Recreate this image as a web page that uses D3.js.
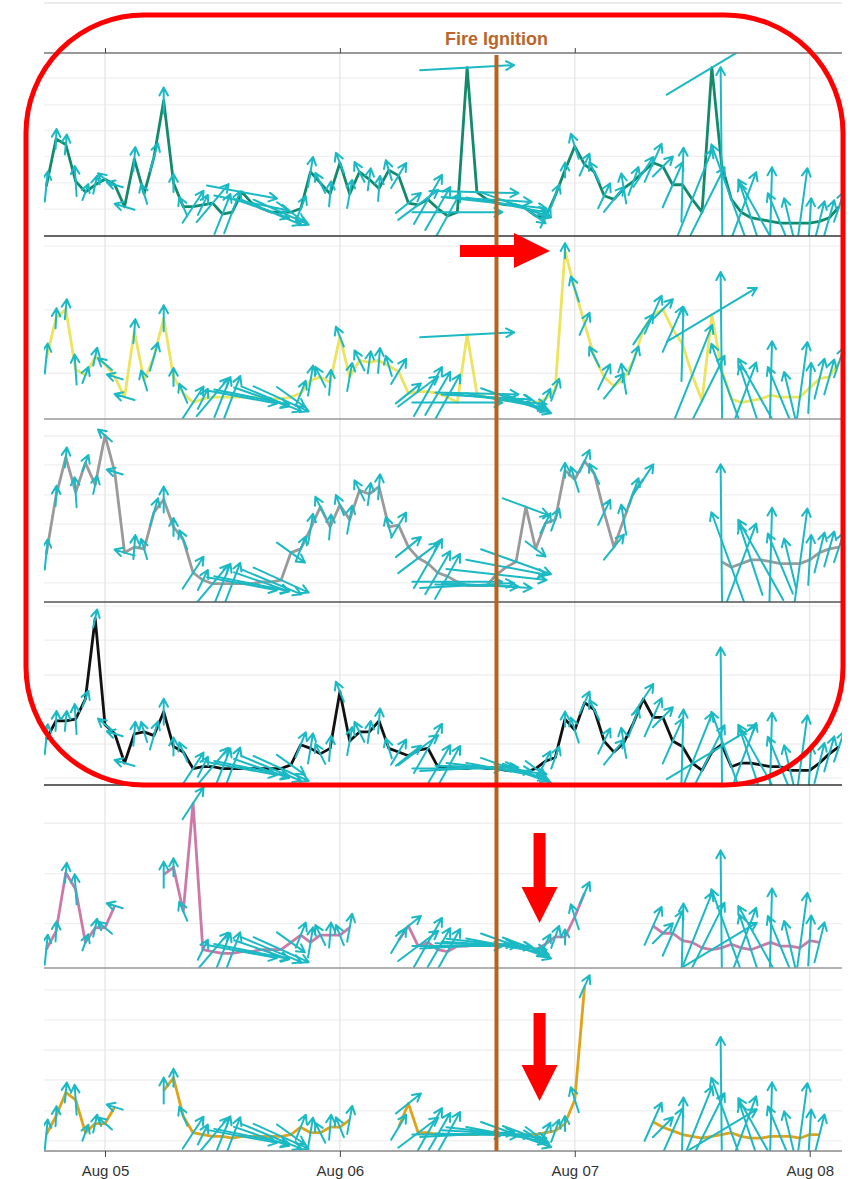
<!DOCTYPE html>
<html><head><meta charset="utf-8">
<script src="https://cdn.jsdelivr.net/npm/d3@7"></script>
<style>body{margin:0;background:#fff}svg{display:block}</style>
</head><body><svg id="c" width="854" height="1179"></svg>
<script>
// hourly samples, hours relative to Aug 05 00:00
const hoursFromAug05 = [-6,-5,-4,-3,-2,-1,0,1,2,3,4,5,6,7,8,9,10,11,12,13,14,15,16,17,18,19,20,21,22,23,24,25,26,27,28,29,30,31,32,33,34,35,36,37,38,39,40,41,42,43,44,45,46,47,48,49,50,51,52,53,54,55,56,57,58,59,60,61,62,63,64,65,66,67,68,69,70,71,72,73,74,75];
const n = null;
const series1 = [27,53,50,30,24,28,31,28,16,42, 23,43,74,29,16,16,17,18,12,13, 24,18,15,13,13,13,15,35,29,23, 40,23,35,31,26,36,33,18,17,20, 15,11,13,92,24,20,18,17,17,15, 11,10,22,36,49,39,35,22,20,26, 30,35,40,38,28,28,20,13,92,39, 20,13,10,9,8,7,7,7,7,8, 10,16];
const series2 = [33,55,60,27,24,34,30,23,12,48, 21,34,55,23,14,9,11,12,12,12, 12,12,12,11,11,12,14,21,23,20, 45,23,32,31,32,29,26,14,15,15, 14,12,9,46,14,12,11,10,10,9, 9,11,16,92,71,52,34,23,18,22, 32,49,57,60,49,41,24,10,57,27, 11,9,10,11,13,12,12,12,17,22, 23,31];
const series3 = [26,58,79,60,76,64,91,71,27,30, 29,49,56,41,34,16,12,10,10,10, 10,10,11,11,12,27,29,40,52,41, 53,45,61,59,63,41,42,30,24,21, 16,14,11,9,9,9,15,19,22,52, 29,43,45,72,67,77,70,49,30,45, 60,67,n,n,n,n,n,n,n,22, 19,21,23,23,22,21,21,21,23,27, 29,30];
const series4 = [25,35,35,36,47,91,33,28,12,28, 29,27,40,21,18,9,10,10,9,9, 9,9,9,9,9,11,22,20,17,20, 51,24,29,29,35,20,18,16,19,20, 10,9,9,9,10,9,9,8,8,7, 9,13,15,36,30,45,41,24,18,23, 34,47,37,37,24,21,12,8,18,22, 10,12,12,11,10,10,8,8,8,12, 17,21];
const series5 = [10,20,52,43,14,22,22,34,n,n, n,n,51,55,31,90,10,9,8,8, 9,9,10,10,10,14,18,14,18,18, 18,22,n,n,n,n,15,23,12,14, 10,9,12,12,13,13,13,12,12,12, 10,13,17,17,28,41,n,n,n,n, n,n,23,19,19,15,14,11,10,11, 13,11,10,12,14,12,12,11,15,14, n,n];
const series6 = [9,19,32,28,10,15,15,24,n,n, n,n,33,40,19,10,9,8,8,7, 8,8,8,8,8,9,13,10,10,13, 13,17,n,n,n,n,13,26,10,10, 9,9,9,9,9,10,10,9,9,9, 9,10,11,15,28,90,n,n,n,n, n,n,16,13,11,9,8,7,8,9, 10,8,7,7,8,8,8,7,9,9, n,n];
// wind vector components (east, north)
const windU = [0.3,0.1,0.2,-0.2,0.6,0.4,-1.4,-1.6,-2.0,0.2, -0.6,0.8,0.0,0.0,-0.8,2.1,1.0,3.2,1.6,1.6, 7.0,7.5,5.5,6.0,5.5,2.8,1.0,0.5,-1.0,0.2, -0.8,0.5,-1.0,0.3,0.2,-0.6,1.5,2.5,4.0,2.8, 2.5,2.5,9.0,9.4,8.3,9.0,10.0,8.0,7.0,4.6, 2.0,1.0,0.8,0.0,-0.8,1.0,-1.0,1.2,2.0,-0.5, 1.0,2.0,1.7,2.0,2.0,0.2,4.0,4.5,9.0,-0.2, -4.0,3.0,-2.3,-4.5,0.3,-2.5,-1.2,1.5,0.3,1.0, 1.0,1.0];
const windV = [3.0,2.0,2.0,3.0,1.6,1.8,1.2,0.5,0.6,2.4, 2.0,2.8,2.6,1.8,1.9,3.2,2.0,3.8,4.0,4.2, -1.3,-1.5,-1.9,-2.5,-2.5,-2.0,2.5,3.0,2.0,2.5, 2.0,2.8,2.0,2.2,2.5,2.0,2.5,2.0,3.0,4.9, 4.3,4.5,0.0,0.5,-0.2,-0.5,-1.1,-1.5,-2.5,-1.7, -1.5,2.0,2.2,1.5,2.5,2.2,2.0,2.5,2.5,3.0, 2.8,3.0,3.8,2.0,4.5,7.4,10.0,9.0,5.4,19.5, 11.0,8.0,7.0,8.0,10.8,6.0,5.0,11.0,5.0,4.0, 3.5,3.0];
const seriesColors = ["#138a6c","#ece35e","#9a9a9a","#111111","#cc79a7","#e0a21a"];
const gridTicks = [[14.7,29,43.5,57.6,71.7,86.4],[25,59.6,94.5],[10.4,26.2,42.6,58.5,74.9,90.7],[3.8,22.4,41.5,60.1,79.2,97.8],[24.2,51.6,79.1],[5.5,21.9,38.8,55.2,71.6,88]];
const dayTicks = ["2021-08-05","2021-08-06","2021-08-07","2021-08-08"];
const ignitionHour = 40;
const fireLabel = "Fire Ignition";

const allSeries = [series1,series2,series3,series4,series5,series6];
const borderColors = ["#777","#333","#999","#555","#333","#999","#888"];

const svg = d3.select("#c");
const base = Date.UTC(2021,7,5,0,0);
const toDate = h => new Date(base + h*3600e3);
const L = 44, R = 842, T = 53, B = 1151;
const x = d3.scaleUtc().domain([toDate(-6.23), toDate(75.3)]).range([L, R]);
const panelH = (B - T) / 6;
const windScale = 10;
const font = "Liberation Sans, Arial, sans-serif";

svg.append("line").attr("x1",L).attr("x2",R).attr("y1",3).attr("y2",3).attr("stroke","#e6e6e6").attr("stroke-width",1.5);

const defs = svg.append("defs");

allSeries.forEach((vals, p) => {
  const top = T + p*panelH, bot = top + panelH;
  const y = d3.scaleLinear().domain([0,100]).range([bot, top]);
  const g = svg.append("g");
  g.selectAll("line.h").data(gridTicks[p]).join("line")
    .attr("x1",L).attr("x2",R).attr("y1",d=>y(d)).attr("y2",d=>y(d))
    .attr("stroke","#efefef").attr("stroke-width",1.3);
  g.selectAll("line.v").data(dayTicks).join("line")
    .attr("x1",d=>x(new Date(d+"T00:00:00Z"))).attr("x2",d=>x(new Date(d+"T00:00:00Z")))
    .attr("y1",top).attr("y2",bot).attr("stroke","#e4e4e4").attr("stroke-width",1.2);
  defs.append("clipPath").attr("id","cp"+p).append("rect")
    .attr("x",L).attr("y",top).attr("width",R-L).attr("height",panelH);
  const pg = g.append("g").attr("clip-path","url(#cp"+p+")");
  const pts = hoursFromAug05.map((h,i)=>({t:toDate(h), v:vals[i], u:windU[i], w:windV[i]}));
  const line = d3.line().defined(d=>d.v!==null).x(d=>x(d.t)).y(d=>y(d.v));
  pg.append("path").datum(pts).attr("d",line).attr("fill","none")
    .attr("stroke",seriesColors[p]).attr("stroke-width",2.8).attr("stroke-linejoin","round");
  const arrows = pts.filter(d=>d.v!==null);
  const arrowPath = d => {
    const cx = x(d.t), cy = y(d.v);
    const dx = d.u*windScale, dy = -d.w*windScale;
    const x1 = cx-dx/2, y1 = cy-dy/2, x2 = cx+dx/2, y2 = cy+dy/2;
    const a = Math.atan2(y2-y1, x2-x1), hl = 9, ha = 0.5;
    const hx1 = x2 - hl*Math.cos(a-ha), hy1 = y2 - hl*Math.sin(a-ha);
    const hx2 = x2 - hl*Math.cos(a+ha), hy2 = y2 - hl*Math.sin(a+ha);
    return `M${x1},${y1}L${x2},${y2}M${hx1},${hy1}L${x2},${y2}L${hx2},${hy2}`;
  };
  pg.selectAll("path.arrow").data(arrows).join("path").attr("class","arrow")
    .attr("d",arrowPath).attr("fill","none").attr("stroke","#1bb9c4")
    .attr("stroke-width",2).attr("stroke-linecap","round").attr("stroke-linejoin","round");
});

d3.range(7).forEach(k => {
  svg.append("line").attr("x1",L).attr("x2",R).attr("y1",T+k*panelH).attr("y2",T+k*panelH)
    .attr("stroke",borderColors[k]).attr("stroke-width",1.5);
});

const dayDates = dayTicks.map(d=>new Date(d+"T00:00:00Z"));
const xAxisTop = d3.axisTop(x).tickValues(dayDates).tickSize(5).tickFormat("");
svg.append("g").attr("transform",`translate(0,${T})`).call(xAxisTop)
  .call(g=>g.select(".domain").remove()).selectAll("line").attr("stroke","#444");
const xAxisBot = d3.axisBottom(x).tickValues(dayDates).tickSize(6).tickPadding(8)
  .tickFormat(d3.utcFormat("%b %d"));
const ax = svg.append("g").attr("transform",`translate(0,${B})`).call(xAxisBot);
ax.select(".domain").remove();
ax.selectAll("line").attr("stroke","#444");
ax.selectAll("text").attr("font-family",font).attr("font-size",15).attr("fill","#333");

const xi = x(toDate(ignitionHour));
svg.append("line").attr("x1",xi).attr("x2",xi).attr("y1",T+2).attr("y2",B)
  .attr("stroke","#b8621f").attr("stroke-width",4);
svg.append("text").attr("x",xi).attr("y",T-8).attr("text-anchor","middle")
  .attr("font-family",font).attr("font-weight","bold").attr("font-size",18)
  .attr("fill","#b8662c").text(fireLabel);

const ann = svg.append("g");
ann.append("rect").attr("x",26).attr("y",15).attr("width",817).attr("height",770)
  .attr("rx",118).attr("ry",118).attr("fill","none").attr("stroke","#ff0000").attr("stroke-width",5);
const ra = (xs,ys)=>ann.append("path").attr("d",d3.line()(xs.map((v,i)=>[v,ys[i]]))+"Z").attr("fill","#ff0000");
ra([460,514,514,550,514,514,460],[245,245,233,251,268,257,257]);
const xd = x(toDate(44.4));
[[833,887,923],[1013,1065,1101]].forEach(([a,b,c])=>{
  ra([xd-6,xd+6,xd+6,xd+18,xd,xd-18,xd-6],[a,a,b,b,c,b,b]);
});
</script></body></html>
